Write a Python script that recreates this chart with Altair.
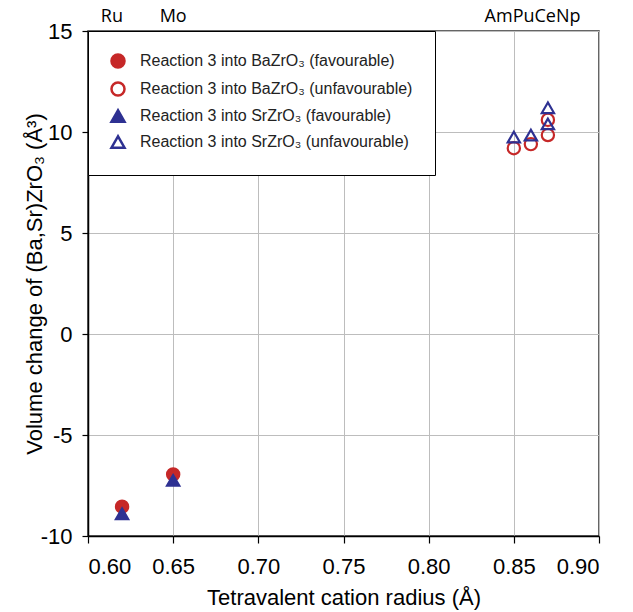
import altair as alt
import pandas as pd

series_names = [
    "Reaction 3 into BaZrO₃ (favourable)",
    "Reaction 3 into BaZrO₃ (unfavourable)",
    "Reaction 3 into SrZrO₃ (favourable)",
    "Reaction 3 into SrZrO₃ (unfavourable)",
]
stroke_colors = ["#c62828", "#c62828", "#2e3192", "#2e3192"]
fill_colors = ["#c62828", "transparent", "#2e3192", "transparent"]
shapes = ["circle", "circle", "triangle-up", "triangle-up"]

# favourable BaZrO3 (Ru, Mo)
ba_fav_r = [0.62, 0.65]
ba_fav_v = [-8.55, -6.95]
# unfavourable BaZrO3 (Am, Pu, Ce, Np)
ba_unf_r = [0.85, 0.86, 0.87, 0.87]
ba_unf_v = [9.2, 9.4, 9.85, 10.6]
# favourable SrZrO3
sr_fav_r = [0.62, 0.65]
sr_fav_v = [-8.9, -7.25]
# unfavourable SrZrO3
sr_unf_r = [0.85, 0.86, 0.87, 0.87]
sr_unf_v = [9.75, 9.85, 10.4, 11.2]

elem_labels = ["Ru", "Mo", "AmPuCeNp"]
elem_pos = [0.614, 0.65, 0.861]

x_ticks = [0.60, 0.65, 0.70, 0.75, 0.80, 0.85, 0.90]
y_ticks = [-10, -5, 0, 5, 10, 15]

rows = []
for name, rs, vs in zip(series_names,
                        [ba_fav_r, ba_unf_r, sr_fav_r, sr_unf_r],
                        [ba_fav_v, ba_unf_v, sr_fav_v, sr_unf_v]):
    for r, v in zip(rs, vs):
        rows.append({"series": name, "r": r, "v": v})
df = pd.DataFrame(rows)
lab_df = pd.DataFrame({"label": elem_labels, "r": elem_pos})

xscale = alt.Scale(domain=[0.60, 0.90], nice=False, zero=False)
yscale = alt.Scale(domain=[-10, 15], nice=False, zero=False)

legend_cfg = dict(title=None, orient="none", legendX=0, legendY=0,
                  strokeColor="black", fillColor="white",
                  padding=22, labelFontSize=16, labelFont="Liberation Sans",
                  labelColor="#222", symbolSize=170, symbolStrokeWidth=2.5,
                  labelOffset=14, rowPadding=4, labelLimit=400)

points = alt.Chart(df).mark_point(size=150, strokeWidth=2.2, opacity=1).encode(
    x=alt.X("r:Q", scale=xscale,
            axis=alt.Axis(title="Tetravalent cation radius (Å)",
                          values=x_ticks, format=".2f")),
    y=alt.Y("v:Q", scale=yscale,
            axis=alt.Axis(title="Volume change of (Ba,Sr)ZrO₃ (Å³)",
                          values=y_ticks,
                          labelExpr="replace(datum.label, '\u2212', '-')",
                          titleX=-42, titleBaseline="bottom")),
    stroke=alt.Stroke("series:N", scale=alt.Scale(domain=series_names, range=stroke_colors),
                      legend=alt.Legend(**legend_cfg)),
    fill=alt.Fill("series:N", scale=alt.Scale(domain=series_names, range=fill_colors),
                  legend=alt.Legend(**legend_cfg)),
    shape=alt.Shape("series:N", scale=alt.Scale(domain=series_names, range=shapes),
                    legend=alt.Legend(**legend_cfg)),
)

labels = alt.Chart(lab_df).mark_text(fontSize=18, font="Open Sans", color="black",
                                     baseline="alphabetic").encode(
    x=alt.X("r:Q", scale=xscale),
    y=alt.value(-9),
    text="label:N",
)

chart = alt.layer(points, labels).properties(
    width=511, height=505,
    autosize=alt.AutoSizeParams(type="none"),
    padding={"left": 80, "top": 23, "right": 18, "bottom": 76},
).configure_view(stroke="#333", strokeWidth=1.5).configure_axis(
    labelFont="Liberation Sans", labelFontSize=22, labelColor="black",
    titleFont="Liberation Sans", titleFontSize=22, titleColor="black", titleFontWeight="normal",
    gridColor="#bdbdbd", gridWidth=1, domainColor="black", domainWidth=1.5,
    tickColor="black", tickSize=7, tickWidth=1.2,
).configure_axisX(labelPadding=13, titlePadding=10).configure_axisY(labelPadding=10, tickSize=6)

chart.save("out.html", embed_options={"renderer": "svg", "actions": False})
